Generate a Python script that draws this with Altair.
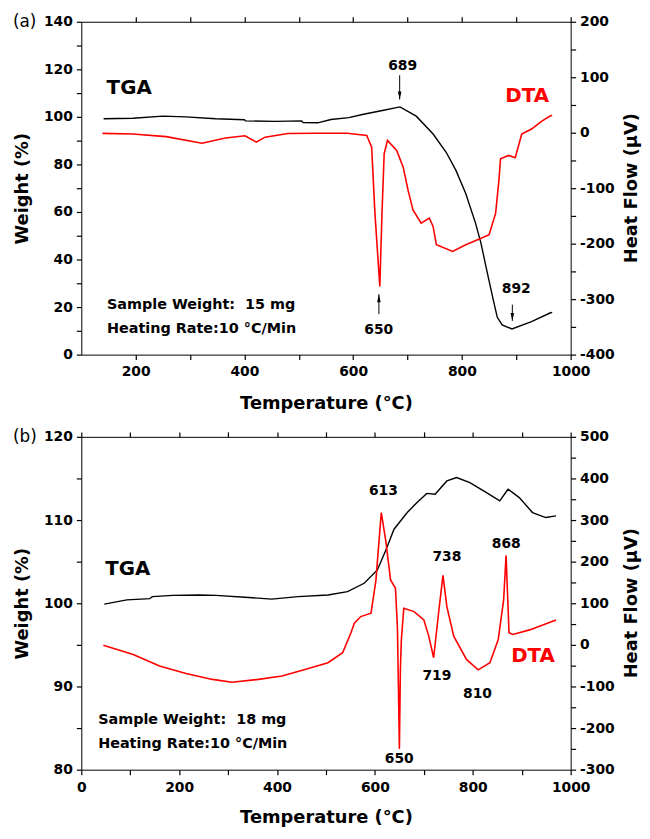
import altair as alt
import pandas as pd

FONT = "DejaVu Sans"
RED = "#ff0000"
W, H = 494, 336

# ---------------- Panel (a) ----------------
a_tga_t = [141, 195, 250, 292, 347, 400, 402, 456, 505, 508, 535, 559, 592, 619, 656, 686, 716, 747, 771, 789,
           807, 825, 835, 844, 856, 865, 874, 892, 928, 962, 966]
a_tga_w = [99.2, 99.4, 100.3, 100.0, 99.2, 98.8, 98.3, 98.1, 98.3, 97.6, 97.5, 98.9, 99.7, 101.1, 102.8, 104.2,
           100.3, 92.8, 85.1, 77.5, 67.8, 55.3, 46.9, 37.2, 24.7, 15.7, 12.5, 10.8, 13.9, 17.5, 17.8]
a_dta_t = [139, 195, 256, 322, 365, 401, 422, 438, 480, 528, 589, 625, 634, 640, 649, 653, 657, 663, 680, 692,
           701, 710, 725, 740, 747, 753, 783, 807, 831, 850, 862, 868, 871, 886, 898, 910, 928, 947, 962, 966]
a_dta_v = [-1.2, -2.4, -7, -19, -9.5, -5.4, -17, -8, -1.5, -1, -1, -5, -26, -145, -277, -145, -38, -14, -32, -62,
           -104, -139, -163, -154, -169, -202, -214, -202, -192, -184, -145, -86, -47, -41, -45, -2.4, 6.6, 21, 30, 31]

a_note_text = ["689", "650", "892"]
a_note_t = [691, 647, 900]
a_note_w = [121.25, 10.4, 27.5]
a_big_text = ["TGA", "DTA"]
a_big_t = [188, 920]
a_big_w = [112.1, 108.75]
a_info_text = ["Sample Weight:\u00a0 15 mg", "Heating Rate:10 \u00b0C/Min"]
a_info_t = [147.3, 147.3]
a_info_w = [20.8, 10.8]
a_arrow_t = [685.5, 647.3, 892.7]
a_arrow_tail = [117.5, 17.0, 21.0]
a_arrow_tip = [107.3, 25.4, 14.2]
a_arrow_dir = ["down", "up", "down"]

# ---------------- Panel (b) ----------------
b_tga_t = [47, 93, 140, 145, 187, 241, 275, 342, 389, 443, 504, 544, 578, 605, 622, 639, 666, 686, 706, 723,
           747, 767, 794, 828, 855, 872, 895, 922, 949, 970]
b_tga_w = [99.9, 100.4, 100.55, 100.8, 100.95, 101.0, 100.95, 100.7, 100.5, 100.8, 101.0, 101.4, 102.4, 104.0,
           106.35, 108.9, 110.9, 112.1, 113.2, 113.1, 114.7, 115.1, 114.5, 113.3, 112.3, 113.7, 112.7, 110.9,
           110.3, 110.5]
b_dta_t = [45, 106, 160, 214, 268, 308, 362, 410, 457, 504, 534, 551, 558, 571, 592, 602, 613, 622, 632, 642,
           646, 648, 650, 652, 654, 659, 680, 700, 710, 720, 730, 739, 747, 761, 787, 811, 835, 852, 863, 868,
           874, 882, 916, 943, 970]
b_dta_v = [-1, -23, -51, -69, -83, -90, -83, -75, -59, -43, -19, 29, 52, 68, 76, 155, 318, 251, 156, 136,
           40, -100, -250, -60, 13, 88, 80, 60, 21, -31, 76, 167, 92, 21, -35, -60, -43, 13, 108, 215,
           29, 25, 36, 48, 60]

b_note_text = ["613", "738", "868", "719", "810", "650"]
b_note_t = [617.4, 747, 868.4, 726.7, 809.7, 649.8]
b_note_w = [113.45, 105.6, 107.1, 91.3, 89.05, 81.3]
b_big_text = ["TGA", "DTA"]
b_big_t = [95.1, 923]
b_big_w = [104.17, 93.7]
b_info_text = ["Sample Weight:\u00a0 18 mg", "Heating Rate:10 \u00b0C/Min"]
b_info_t = [34.4, 34.4]
b_info_w = [85.95, 83.1]

DOWN_HEAD = "M-0.45,-2L0.45,-2L0,0Z"
UP_HEAD = "M-0.45,2L0.45,2L0,0Z"
TICK = 5


def major_label(step):
    return f"datum.value % {step} == 0 ? '' + datum.value : ''"


def build_panel(tga_t, tga_w, dta_t, dta_v, xdom, ldom, rdom, xvals, xstep, lvals, lstep, rvals, rstep,
                notes, bigs, infos, arrows, tag, lab_pad, tit_pad):
    tga = pd.DataFrame({"t": tga_t, "w": tga_w})
    dta = pd.DataFrame({"t": dta_t, "v": dta_v})
    xs = alt.Scale(domain=xdom, nice=False, zero=False)
    ls = alt.Scale(domain=ldom, nice=False, zero=False)
    rs = alt.Scale(domain=rdom, nice=False, zero=False)

    tga_line = alt.Chart(tga).mark_line(color="black", strokeWidth=1.4).encode(
        x=alt.X("t:Q", scale=xs, axis=alt.Axis(orient="bottom", values=xvals, labelExpr=major_label(xstep),
                                               ticks=True, tickSize=TICK, domain=False,
                                               labelPadding=lab_pad - TICK,
                                               title="Temperature (\u00b0C)", titlePadding=tit_pad)),
        y=alt.Y("w:Q", scale=ls, axis=alt.Axis(orient="left", values=lvals, labelExpr=major_label(lstep),
                                               ticks=True, tickSize=TICK, domain=False,
                                               labelPadding=9 - TICK,
                                               title="Weight (%)", titlePadding=12)),
    )
    dta_line = alt.Chart(dta).mark_line(color=RED, strokeWidth=1.6).encode(
        x=alt.X("t:Q", scale=xs, axis=alt.Axis(orient="top", values=xvals, labels=False, ticks=True,
                                               tickSize=TICK, domain=False, title=None)),
        y=alt.Y("v:Q", scale=rs, axis=alt.Axis(orient="right", values=rvals, labelExpr=major_label(rstep),
                                               ticks=True, tickSize=TICK, domain=False,
                                               labelPadding=9 - TICK, title=None)),
    )

    nt, ntt, nw = notes
    note_df = pd.DataFrame({"text": nt, "t": ntt, "w": nw})
    note_layer = alt.Chart(note_df).mark_text(font=FONT, fontSize=14, fontWeight="bold", color="black",
                                              align="center", baseline="middle").encode(
        x=alt.X("t:Q", scale=xs, axis=None), y=alt.Y("w:Q", scale=ls, axis=None), text="text:N")

    bt, btt, bw = bigs
    big_df = pd.DataFrame({"text": bt, "t": btt, "w": bw})
    big_layer = alt.Chart(big_df).mark_text(font=FONT, fontSize=20, fontWeight="bold",
                                            align="center", baseline="middle").encode(
        x=alt.X("t:Q", scale=xs, axis=None), y=alt.Y("w:Q", scale=ls, axis=None), text="text:N",
        color=alt.Color("text:N", scale=alt.Scale(domain=["TGA", "DTA"], range=["black", RED]), legend=None))

    it, itt, iw = infos
    info_df = pd.DataFrame({"text": it, "t": itt, "w": iw})
    info_layer = alt.Chart(info_df).mark_text(font=FONT, fontSize=14.5, fontWeight="bold", color="black",
                                              align="left", baseline="middle").encode(
        x=alt.X("t:Q", scale=xs, axis=None), y=alt.Y("w:Q", scale=ls, axis=None), text="text:N")

    tag_df = pd.DataFrame({"tag": [tag]})
    tag_layer = alt.Chart(tag_df).mark_text(font=FONT, fontSize=17, color="black",
                                            align="left", baseline="middle").encode(
        x=alt.value(-69), y=alt.value(0), text="tag:N")

    rtitle_df = pd.DataFrame({"title": ["Heat Flow (\u03bcV)"]})
    rtitle_layer = alt.Chart(rtitle_df).mark_text(font=FONT, fontSize=18, fontWeight="bold", color="black",
                                                  align="center", baseline="middle", angle=270).encode(
        x=alt.value(W + 62), y=alt.value(H / 2), text="title:N")

    layers = [tga_line, dta_line, note_layer, big_layer, info_layer, tag_layer, rtitle_layer]

    if arrows is not None:
        at, atail, atip, adir = arrows
        arr_df = pd.DataFrame({"t": at, "tail": atail, "tip": atip, "dir": adir})
        rule = alt.Chart(arr_df).mark_rule(color="black", strokeWidth=1).encode(
            x=alt.X("t:Q", scale=xs, axis=None), y=alt.Y("tail:Q", scale=ls, axis=None), y2="tip:Q")
        head = alt.Chart(arr_df).mark_point(filled=True, size=64, color="black", opacity=1,
                                            strokeWidth=0).encode(
            x=alt.X("t:Q", scale=xs, axis=None), y=alt.Y("tip:Q", scale=ls, axis=None),
            shape=alt.Shape("dir:N", scale=alt.Scale(domain=["down", "up"], range=[DOWN_HEAD, UP_HEAD]),
                            legend=None))
        layers += [rule, head]

    return alt.layer(*layers).resolve_scale(x="independent", y="independent").properties(width=W, height=H)


panel_a = build_panel(
    a_tga_t, a_tga_w, a_dta_t, a_dta_v, [100, 1000], [0, 140], [-400, 200],
    [200, 300, 400, 500, 600, 700, 800, 900, 1000], 200,
    list(range(0, 141, 10)), 20,
    list(range(-400, 201, 50)), 100,
    (a_note_text, a_note_t, a_note_w), (a_big_text, a_big_t, a_big_w), (a_info_text, a_info_t, a_info_w),
    (a_arrow_t, a_arrow_tail, a_arrow_tip, a_arrow_dir), "(a)", 10, 16)

panel_b = build_panel(
    b_tga_t, b_tga_w, b_dta_t, b_dta_v, [0, 1000], [80, 120], [-300, 500],
    list(range(0, 1001, 100)), 200,
    list(range(80, 121, 5)), 10,
    list(range(-300, 501, 50)), 100,
    (b_note_text, b_note_t, b_note_w), (b_big_text, b_big_t, b_big_w), (b_info_text, b_info_t, b_info_w),
    None, "(b)", 11, 14)

chart = alt.vconcat(panel_a, panel_b, spacing=14).properties(
    padding={"left": 4, "top": 0, "right": 0, "bottom": 0}
).configure_view(stroke="black", strokeWidth=1).configure_axis(
    labelFont=FONT, labelFontSize=14, labelFontWeight="bold", labelColor="black",
    titleFont=FONT, titleFontSize=18, titleFontWeight="bold", titleColor="black",
    tickColor="black", tickWidth=1.2,
    labelFlush=False, labelOverlap=False, grid=False
)

chart.save("out.html", embed_options={"renderer": "svg", "actions": False})
